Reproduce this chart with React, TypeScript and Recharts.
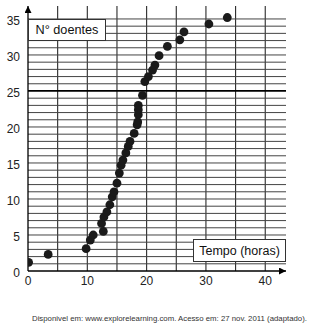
import { CartesianGrid, ReferenceLine, Scatter, ScatterChart, XAxis, YAxis } from "recharts"

// tempo (horas) e nº de doentes
const hours = [
  0.1, 3.4, 9.8, 10.5, 11.0, 12.7, 12.4, 12.8, 13.3, 13.8, 14.2, 14.5, 15.0, 15.4, 15.7, 16.0, 16.5, 16.9,
  17.2, 17.9, 18.4, 18.5, 18.6, 18.6, 18.6, 19.3, 19.7, 20.3, 21.0, 21.4, 22.1, 23.5, 25.6, 26.3, 30.5, 33.6,
]
const patients = [
  1.2, 2.3, 3.1, 4.3, 5.0, 5.5, 6.6, 7.5, 8.2, 9.2, 10.3, 11.0, 12.2, 13.6, 14.7, 15.4, 16.4, 17.3,
  18.0, 19.1, 20.3, 20.7, 21.7, 22.4, 23.0, 24.4, 26.3, 27.0, 27.9, 28.6, 29.9, 31.2, 32.1, 33.2, 34.3, 35.2,
]
const xTicks = [0, 10, 20, 30, 40]
const yTicks = [0, 5, 10, 15, 20, 25, 30, 35]
const gridX = [5, 10, 15, 20, 25, 30, 35, 40]
const gridY = Array.from({ length: 35 }, (_, i) => i + 1)

const data = hours.map((t, i) => ({ t, n: patients[i] }))

const font = "'Liberation Sans', Arial, sans-serif"

const Dot = (props: any) => <circle cx={props.cx} cy={props.cy} r={4.4} fill="#1a1a1a" />

const XTick = ({ x, y, payload }: any) => (
  <text x={x} y={y} dy={6} textAnchor="middle" fontSize={12} fill="#222" fontFamily={font}>
    {payload.value}
  </text>
)

const YTick = ({ x, y, payload }: any) => (
  <text x={x} y={y} dy={6.3} textAnchor="end" fontSize={12} fill="#222" fontFamily={font}>
    {payload.value}
  </text>
)

const boxStyle = {
  position: "absolute" as const,
  boxSizing: "border-box" as const,
  background: "#fff",
  border: "1px solid #333",
  display: "flex",
  alignItems: "center",
  justifyContent: "center",
  fontFamily: font,
  color: "#111",
}

export default function App() {
  return (
    <div style={{ position: "absolute", left: 0, top: 0, width: 313, height: 329, background: "#fff" }}>
      <svg width={0} height={0} style={{ position: "absolute" }}>
        <defs>
          <marker
            id="arrowHead"
            viewBox="0 0 7 7"
            refX={7}
            refY={3.5}
            markerWidth={7}
            markerHeight={7}
            markerUnits="userSpaceOnUse"
            orient="auto-start-reverse"
          >
            <path d="M0,0 L7,3.5 L0,7 Z" fill="#000" />
          </marker>
        </defs>
      </svg>
      <ScatterChart width={313} height={329} margin={{ top: 6, right: 27, left: 0, bottom: 28 }}>
        <CartesianGrid horizontal={false} verticalValues={gridX} stroke="#2a2a2a" strokeWidth={1.1} />
        {gridY.map((v) => (
          <ReferenceLine
            key={v}
            y={v}
            stroke={v === 25 ? "#000" : "#444"}
            strokeWidth={v === 25 ? 1.8 : 1}
          />
        ))}
        <XAxis
          type="number"
          dataKey="t"
          domain={[0, 43.5]}
          allowDataOverflow
          ticks={xTicks}
          tickLine={false}
          height={30}
          tick={<XTick />}
          axisLine={{ stroke: "#000", strokeWidth: 1.3, markerEnd: "url(#arrowHead)" }}
        />
        <YAxis
          type="number"
          dataKey="n"
          domain={[0, 36.8]}
          allowDataOverflow
          ticks={yTicks}
          tickLine={false}
          width={28}
          tick={<YTick />}
          axisLine={{ stroke: "#000", strokeWidth: 1.3, markerStart: "url(#arrowHead)" }}
        />
        <Scatter data={data} shape={Dot} isAnimationActive={false} />
      </ScatterChart>
      <div style={{ ...boxStyle, left: 28, top: 19, width: 78, height: 22, fontSize: 12.7 }}>N° doentes</div>
      <div style={{ ...boxStyle, left: 193, top: 239, width: 93, height: 23, fontSize: 12.5 }}>Tempo (horas)</div>
      <div
        style={{
          position: "absolute",
          left: 32,
          top: 314,
          fontSize: 7.8,
          fontFamily: font,
          color: "#333",
          whiteSpace: "nowrap",
        }}
      >
        Disponivel em: www.explorelearning.com. Acesso em: 27 nov. 2011 (adaptado).
      </div>
    </div>
  )
}
